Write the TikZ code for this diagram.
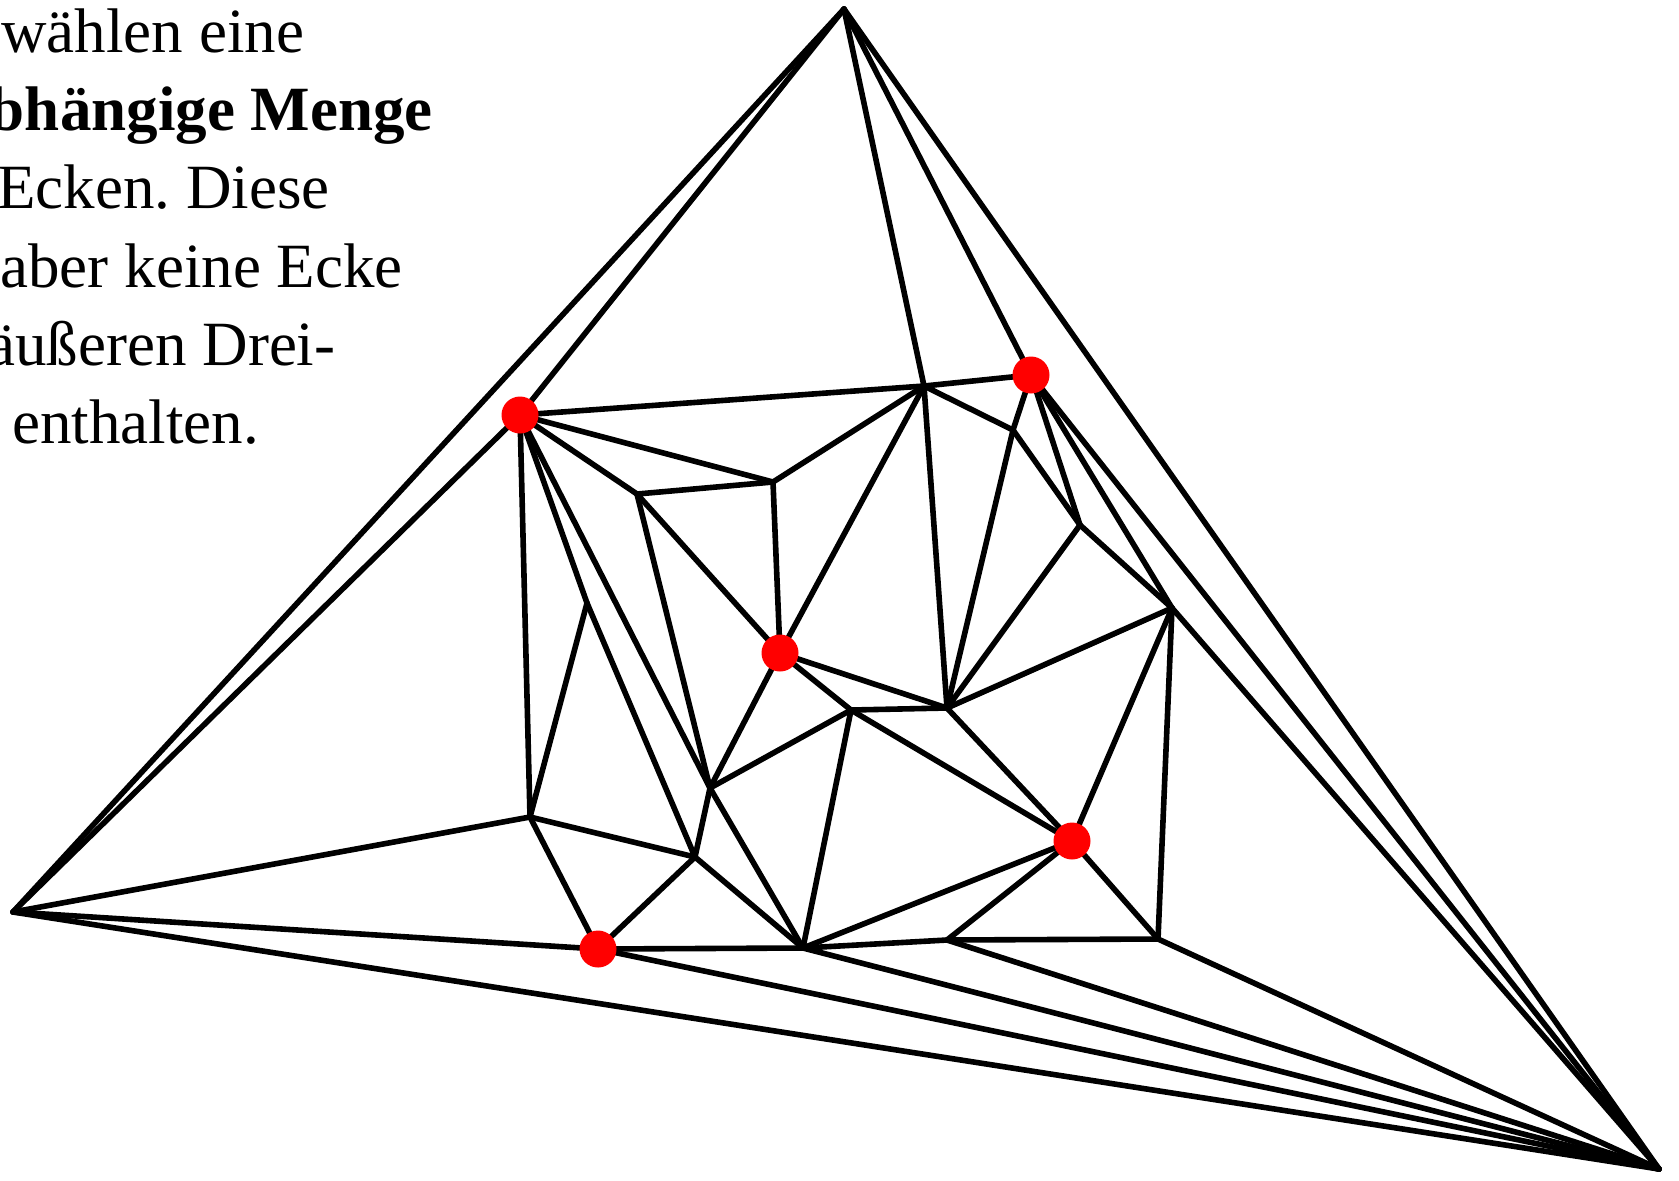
\documentclass[tikz,border=0pt]{standalone}
\usepackage{fontspec}
\setmainfont{Liberation Serif}
\begin{document}
\frenchspacing
\begin{tikzpicture}[x=0.5pt,y=-0.5pt,
  edge/.style={line width=2.8pt,line cap=round,line join=round},
  reddot/.style={circle,fill=red,draw=none,minimum size=18.5pt,inner sep=0pt},
  txt/.style={anchor=base west,inner sep=0pt,font=\fontsize{31.5}{39}\selectfont}]
\useasboundingbox (0,0) rectangle (1679,1180);
% vertices
\coordinate (T) at (844,9);
\coordinate (L) at (13,912);
\coordinate (R) at (1659,1169);
\coordinate (A) at (520,415);
\coordinate (B) at (780,653);
\coordinate (C) at (1031,375);
\coordinate (D) at (1072,841);
\coordinate (E) at (598,949);
\coordinate (P1) at (924,386);
\coordinate (P2) at (637,494);
\coordinate (P3) at (773,482);
\coordinate (P4) at (1013,430);
\coordinate (P5) at (1080,525);
\coordinate (P6) at (1172,608);
\coordinate (P7) at (947,708);
\coordinate (P8) at (851,710);
\coordinate (P9) at (587,603);
\coordinate (P10) at (530,817);
\coordinate (P11) at (695,857);
\coordinate (P12) at (710,788);
\coordinate (P13) at (803,948);
\coordinate (P14) at (947,940);
\coordinate (P15) at (1158,939);
% edges
\foreach \u/\v in {T/L,T/A,T/P1,T/C,T/R,L/R,L/A,L/P10,L/E,
  A/P1,A/P3,A/P2,A/P9,P9/P11,A/P12,A/P10,P9/P10,
  P10/P11,P10/E,E/P11,E/P13,E/R,P11/P13,P11/P12,P12/P13,P12/B,P12/P8,P2/P12,
  P2/P3,P2/B,P3/B,P3/P1,P1/B,B/P8,B/P7,P8/P7,P8/P13,P8/D,
  P1/P7,P1/P4,P1/C,C/P4,P4/P7,P4/P5,C/P5,C/P6,C/R,P5/P7,P5/P6,P6/P7,P6/D,P6/P15,P6/R,
  P7/D,D/P13,D/P14,D/P15,P14/P15,P13/P14,P14/R,P15/R,P13/R}
  \draw[edge] (\u) -- (\v);
% independent set
\foreach \p in {A,B,C,D,E}
  \node[reddot] (dot\p) at (\p) {};
% text
\node[txt] (t1) at (1,52) {wählen eine};
\node[txt] (t2) at (-112,130) {\bfseries unabhängige Menge};
\node[txt] (t3) at (-3,208.5) {Ecken. Diese};
\node[txt] (t4) at (0,287) {aber keine Ecke};
\node[txt] (t5) at (-13,365) {äußeren Drei-};
\node[txt] (t6) at (12,443.5) {enthalten.};
\end{tikzpicture}
\end{document}
